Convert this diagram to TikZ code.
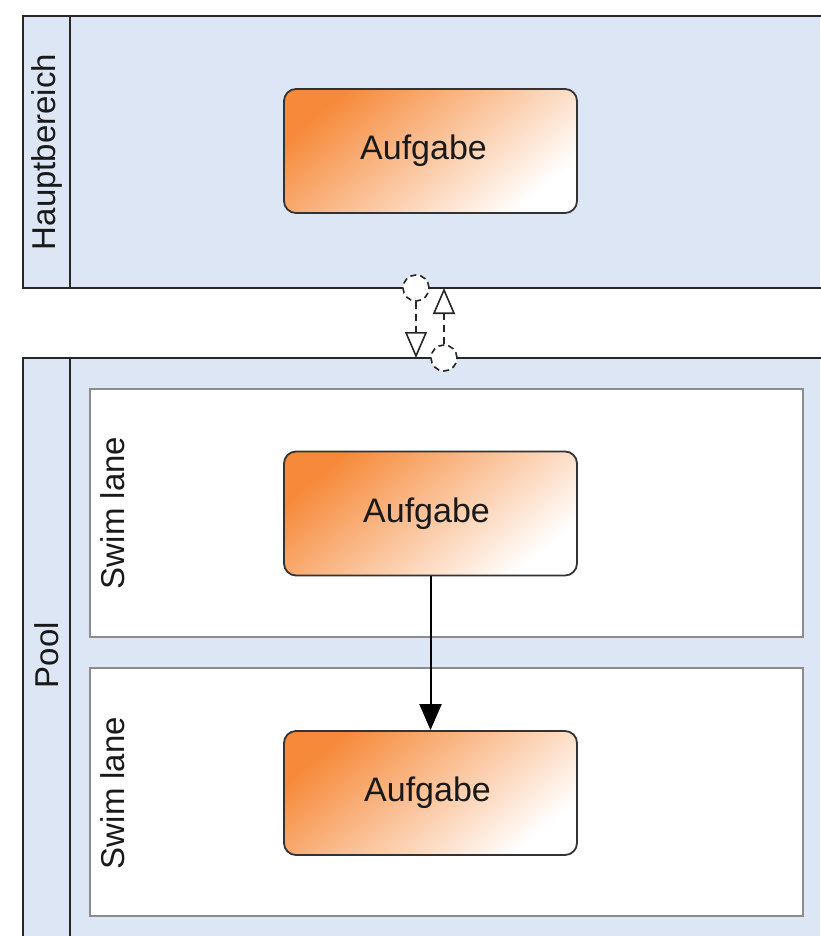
\documentclass[tikz,border=0pt]{standalone}
\usepackage{fontspec}
\setmainfont{Liberation Sans}
\usetikzlibrary{arrows.meta,shapes.geometric}
\definecolor{poolblue}{RGB}{221,230,244}
\definecolor{taskorange}{RGB}{246,138,58}
\definecolor{lanegray}{RGB}{140,140,140}
\definecolor{txt}{RGB}{25,25,25}
\tikzset{
  poolline/.style={draw=black!85,line width=2pt},
  lanebox/.style={draw=lanegray,fill=white,line width=2.2pt},
  taskbox/.style={draw=black!80,line width=1.8pt,rounded corners=12pt,
    minimum width=293pt,minimum height=124pt,inner sep=0pt,
    shading=axis,top color=taskorange,bottom color=white,shading angle=40,
    font=\fontsize{34}{40}\selectfont,text=txt},
  bandlabel/.style={rotate=90,font=\fontsize{33}{38}\selectfont,text=txt},
  msgcircle/.style={circle,draw=black!85,fill=white,dash pattern=on 6pt off 4pt,
    line width=1.6pt,minimum size=26pt,inner sep=0pt},
  msgflow/.style={draw=black!85,line width=1.6pt,dash pattern=on 7pt off 5pt,
    -{Triangle[open,length=26pt,width=22pt,line width=1.6pt]}},
  seqflow/.style={draw=black,line width=2pt,-{Triangle[length=26pt,width=22pt]}}
}
\begin{document}
\begin{tikzpicture}[x=1pt,y=-1pt]
\useasboundingbox (0,0) rectangle (820,936);
\fill[white] (0,0) rectangle (820,936);
% top pool
\fill[poolblue] (23,16) rectangle (820,288);
\draw[poolline] (822,16) -- (23,16) -- (23,288) -- (822,288);
\draw[poolline] (70,16) -- (70,288);
\node[bandlabel] (hb) at (46.5,152) {Hauptbereich};
% bottom pool
\fill[poolblue] (23,358) rectangle (820,936);
\draw[poolline] (822,358) -- (23,358) -- (23,938);
\draw[poolline] (70,358) -- (70,938);
\node[bandlabel] (pool) at (46.5,655) {Pool};
% lanes
\draw[lanebox] (90,389) rectangle (803,637);
\draw[lanebox] (90,668) rectangle (803,916);
\node[bandlabel] (sl1) at (113,513) {Swim lane};
\node[bandlabel] (sl2) at (113,793) {Swim lane};
% tasks
\node[taskbox] (t1) at (430.5,151) {\hspace*{-14pt}Aufgabe};
\node[taskbox] (t2) at (430.5,513.5) {\hspace*{-8pt}Aufgabe};
\node[taskbox] (t3) at (430.5,793) {\hspace*{-6pt}Aufgabe};
\draw[seqflow] (t2.south) -- (t3.north);
% message flows
\node[msgcircle] (c1) at (416,288) {};
\node[msgcircle] (c2) at (444,358) {};
\coordinate (e1) at (416,358);
\coordinate (e2) at (444,288);
\draw[msgflow] (c1.south) -- (e1);
\draw[msgflow] (c2.north) -- (e2);
\end{tikzpicture}
\end{document}
